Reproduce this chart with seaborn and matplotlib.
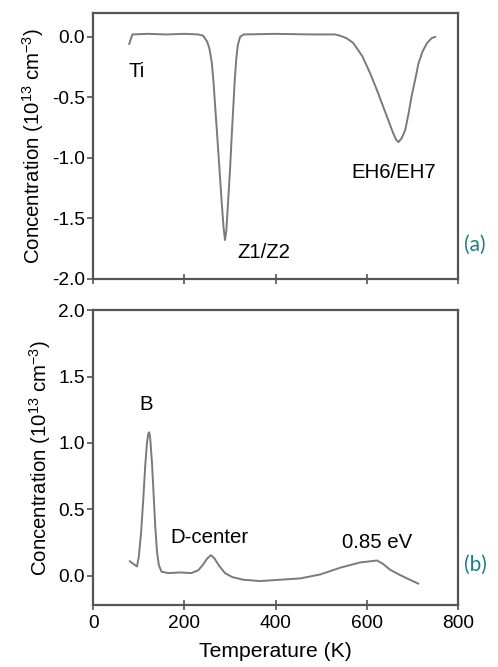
# DLTS spectra - panel (a) electron traps, panel (b) hole traps
import numpy as np
import pandas as pd
import matplotlib
matplotlib.use("Agg")
import matplotlib.pyplot as plt
import seaborn as sns

# ---------------------------------------------------------
# Datos
# ---------------------------------------------------------
temp_a = [79, 86, 120, 160, 200, 230, 241, 250, 255, 260, 264, 267, 272, 277, 282,
          286, 289, 292, 296, 300, 304, 307.6, 310, 313.5, 317, 322, 330, 400, 480,
          530, 541, 555, 570, 590, 607, 622, 636, 648, 658, 664, 669, 676, 684, 691,
          698, 706, 713, 722, 732, 742, 750]
conc_a = [-0.06, 0.02, 0.025, 0.02, 0.025, 0.02, 0.01, -0.04, -0.10, -0.21, -0.38,
          -0.55, -0.82, -1.10, -1.38, -1.58, -1.68, -1.60, -1.35, -1.10, -0.80, -0.55,
          -0.38, -0.19, -0.07, 0.0, 0.02, 0.025, 0.02, 0.02, 0.01, -0.01, -0.05, -0.16,
          -0.30, -0.44, -0.58, -0.70, -0.80, -0.85, -0.87, -0.84, -0.77, -0.64, -0.49,
          -0.35, -0.22, -0.12, -0.05, -0.01, 0.0]

temp_b = [80, 88, 96, 100, 105, 110, 114, 118, 121, 123, 125, 129, 132, 136, 140, 144, 150,
          165, 190, 215, 230, 240, 250, 258, 266, 275, 289, 305, 329, 366, 410, 454,
          498, 541, 585, 610, 622, 635, 651, 670, 688, 713]
conc_b = [0.11, 0.09, 0.07, 0.14, 0.32, 0.58, 0.82, 1.00, 1.07, 1.08, 1.04, 0.85, 0.65, 0.38,
          0.18, 0.08, 0.03, 0.02, 0.025, 0.02, 0.04, 0.08, 0.13, 0.155, 0.13, 0.08, 0.02,
          -0.01, -0.03, -0.04, -0.03, -0.02, 0.01, 0.06, 0.10, 0.11, 0.115, 0.09, 0.045,
          0.01, -0.02, -0.06]

# etiquetas de los picos: (texto, x, y)
labels_a = [("Ti", 77, -0.29), ("Z1/Z2", 316, -1.785), ("EH6/EH7", 565, -1.12)]
labels_b = [("B", 101, 1.29), ("D-center", 170, 0.29), ("0.85 eV", 545, 0.25)]

yticks_a = [-2.0, -1.5, -1.0, -0.5, 0.0]
yticks_b = [0.0, 0.5, 1.0, 1.5, 2.0]
xticks = [0, 200, 400, 600, 800]

# ---------------------------------------------------------
# Estilo
# ---------------------------------------------------------
sns.set_style("ticks")
plt.rcParams['font.family'] = ['Liberation Sans', 'DejaVu Sans']
plt.rcParams['mathtext.fontset'] = 'custom'
plt.rcParams['mathtext.rm'] = 'Liberation Sans'
plt.rcParams['mathtext.it'] = 'Liberation Sans:italic'
plt.rcParams['axes.unicode_minus'] = False
plt.rcParams['text.color'] = 'black'
plt.rcParams['axes.labelcolor'] = 'black'
plt.rcParams['xtick.labelcolor'] = 'black'
plt.rcParams['ytick.labelcolor'] = 'black'

linea = '#7a7a7a'
borde = '#555555'
teal = '#1f7f88'

fig = plt.figure(figsize=(4.98, 6.67), dpi=100)
ax_a = fig.add_axes([0.187, 0.582, 0.733, 0.399])
ax_b = fig.add_axes([0.187, 0.093, 0.733, 0.442])

df_a = pd.DataFrame({'T': temp_a, 'C': conc_a})
df_b = pd.DataFrame({'T': temp_b, 'C': conc_b})

sns.lineplot(data=df_a, x='T', y='C', ax=ax_a, color=linea, lw=1.4, estimator=None)
sns.lineplot(data=df_b, x='T', y='C', ax=ax_b, color=linea, lw=1.4, estimator=None)

ylab = r'Concentration (10$^{13}$ cm$^{-3}$)'

for ax, yt, lims in [(ax_a, yticks_a, (-2.0, 0.2)), (ax_b, yticks_b, (-0.22, 2.0))]:
    ax.set_xlim(0, 800)
    ax.set_ylim(*lims)
    ax.set_yticks(yt)
    ax.set_yticklabels([f"{v:.1f}" for v in yt])
    ax.set_xticks(xticks)
    ax.set_ylabel(ylab, fontsize=14.7, labelpad=4)
    for s in ax.spines.values():
        s.set_color(borde)
        s.set_linewidth(1.6)
    ax.tick_params(axis='y', direction='out', length=4, width=1.2, color=borde,
                   labelsize=13.8, pad=2)
    ax.tick_params(axis='x', direction='inout', length=7, width=1.2, color=borde,
                   labelsize=13.8, pad=4)

ax_a.set_xlabel("")
ax_a.set_xticklabels([])
ax_b.set_xticklabels([str(v) for v in xticks])
ax_b.set_xlabel("Temperature (K)", fontsize=15.2, labelpad=7)

for txt, x, y in labels_a:
    ax_a.text(x, y, txt, fontsize=14.7, va='center', ha='left')
for txt, x, y in labels_b:
    ax_b.text(x, y, txt, fontsize=14.7, va='center', ha='left')

fig.text(0.932, 1 - 245 / 667, "(a)", color=teal, fontsize=15, va='center',
         family=['Lato', 'DejaVu Sans'])
fig.text(0.932, 1 - 565 / 667, "(b)", color=teal, fontsize=15, va='center',
         family=['Lato', 'DejaVu Sans'])

fig.savefig("out.png", dpi=100)
